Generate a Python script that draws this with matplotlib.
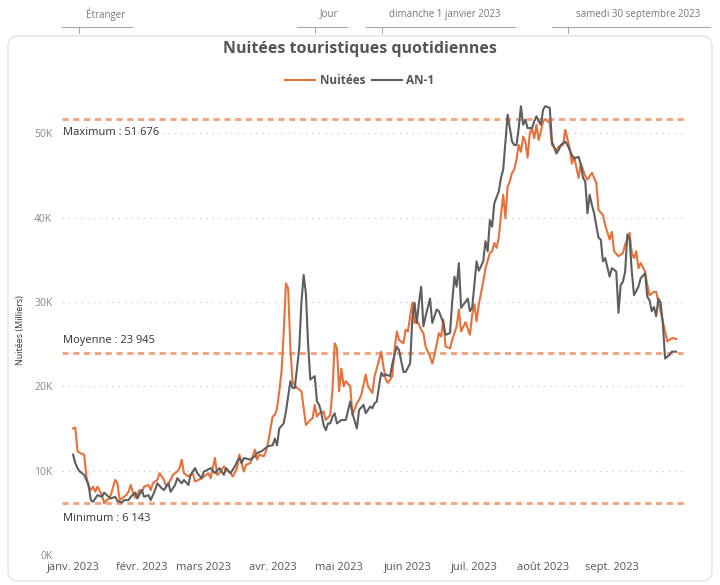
import numpy as np
import matplotlib
matplotlib.use("Agg")
import matplotlib.pyplot as plt
from matplotlib.patches import FancyBboxPatch
from matplotlib.lines import Line2D
from matplotlib.ticker import FuncFormatter

plt.rcParams['font.family'] = ['Open Sans', 'DejaVu Sans']

# days since 1 Jan 2023, values in thousands of nights
nuitees_jours = [0, 1, 2, 3, 4, 5, 6, 7, 8, 9, 10, 11, 12, 13, 14, 15, 16, 17, 19, 20, 21, 23, 24, 25, 26, 27, 28,
                 30, 31, 32, 34, 35, 36, 38, 39, 41, 42, 44, 45, 47, 48, 49, 50, 52, 54,
                 55, 58, 61, 62, 64, 65, 66, 68, 69, 71, 72, 74, 75, 77, 78, 80, 81, 82, 83, 84, 86, 87, 88, 90,
                 91, 92, 93, 94, 95, 96, 97, 98, 99, 101, 103, 105, 107, 108, 109, 110, 111, 113, 114, 116, 117, 118,
                 119, 120, 121, 122, 123, 125, 126, 128, 129, 130, 132, 133, 135, 136, 138, 139, 140, 141, 142, 144,
                 145, 146, 147, 149, 150, 151, 153, 154, 155, 157, 158, 159, 161, 162, 163, 165, 166, 167, 168, 170,
                 171, 173, 174, 175, 177,
                 179, 180, 181, 182, 183, 185, 186, 188, 189, 190, 191, 192, 193, 194, 195, 196, 197, 198, 199, 200,
                 201, 202, 203, 204, 205, 206, 207, 208, 209, 210, 211, 212, 213, 215, 216, 218, 219, 221, 222, 224,
                 225, 226, 228, 229, 231, 232,
                 234, 236, 237, 239, 240, 242, 243, 244, 246, 248, 249, 251, 252, 253, 254, 255, 256, 258, 259, 260,
                 262, 263, 264, 266, 267, 268, 270, 271, 272]
nuitees = [15.0, 15.1, 12.3, 12.1, 12.0, 11.9, 9.3, 8.1, 7.7, 8.1, 7.5, 8.1, 7.6, 7.1, 6.143, 6.5, 6.6, 7.1, 8.9, 8.5,
           6.5, 6.9, 7.1, 7.5, 8.3, 7.4, 6.8, 7.7, 7.4, 8.1, 8.3, 7.7, 8.5, 8.9, 9.7, 8.9, 8.1, 8.9, 9.5, 9.9,
           10.3, 11.3, 9.7, 9.3, 9.7,
           8.7, 9.1, 9.7, 9.1, 11.5, 9.5, 9.7, 10.5, 10.1, 9.7, 9.3, 10.3, 11.9, 9.9, 10.7, 10.9, 11.7, 12.5, 11.3, 11.9,
           11.7, 12.3, 13.4, 16.4, 16.6, 17.4, 19.4, 21.7, 26.5, 32.2, 31.6, 24.5, 20.5, 19.8, 19.4, 15.4, 16.0, 16.2, 17.8, 16.4,
           16.8, 17.0, 16.0, 16.6, 19.6, 25.1,
           24.5, 19.4, 22.1, 20.0, 20.6, 20.0, 16.6, 18.0, 18.4, 19.0, 21.4, 20.0, 19.2, 21.2, 23.1, 24.1, 22.3, 20.8, 20.4, 21.2,
           24.3, 26.5, 25.5, 25.1, 26.7, 26.5, 29.9, 27.5, 27.9, 26.7, 26.3, 24.7, 23.5, 22.7, 23.7, 26.3, 25.9, 27.9, 24.7, 24.5,
           25.5, 27.1, 29.1, 26.5, 27.6,
           26.1, 28.5, 29.7, 27.7, 29.7, 32.4, 34.0, 35.8, 36.0, 37.0, 36.4, 37.6, 40.3, 42.7, 39.9, 43.7, 44.3, 45.3, 45.7, 46.9,
           48.6, 47.8, 49.6, 49.0, 47.1, 50.0, 50.6, 49.4, 51.0, 49.2, 50.2, 51.4, 51.676, 51.2, 48.6, 48.0, 48.4, 48.6, 50.4, 48.2,
           46.4, 47.2, 44.7, 46.4, 44.9, 44.5,
           45.3, 44.1, 40.9, 40.3, 39.1, 37.4, 38.3, 36.0, 35.4, 35.8, 36.8, 38.2, 35.8, 35.2, 36.0, 34.0, 34.6, 33.6, 32.0, 30.8,
           31.2, 31.2, 30.0, 27.7, 26.5, 25.3, 25.7, 25.7, 25.6]

an1_jours = [0, 1, 2, 3, 4, 5, 6, 7, 8, 9, 10, 11, 13, 14, 16, 17, 19, 20, 22, 23, 25, 26, 28, 29, 31, 32, 34, 35, 37, 38,
             40, 41, 43, 44, 46, 47, 49, 50, 52, 53, 55, 56, 58, 59, 60,
             62, 64, 66, 68, 69, 71, 73, 74, 75, 76, 77, 80, 82, 83, 85, 86, 88, 90, 91, 92,
             93, 95, 96, 98, 99, 100, 101, 102, 103, 104, 105, 106, 107, 108, 109, 110, 111, 112, 113, 114, 115, 116, 117,
             118, 119, 121, 123, 125, 126, 128, 129, 131, 132, 134, 135, 136, 137, 138, 139, 140, 141, 143, 144,
             146, 147, 149, 150, 152, 153, 154, 155, 156, 157, 158, 159, 161, 162, 164, 165, 167, 168, 170, 171,
             172, 173, 174, 175, 177,
             178, 179, 180, 182, 183, 185, 186, 187, 188, 189, 190, 192, 193, 194, 195, 196, 197, 198, 199, 200,
             201, 202, 203, 204, 205, 206, 207, 208, 209, 210, 211, 212, 213, 215, 216, 218, 219, 220, 222, 223,
             224, 225, 226, 228, 229, 230, 231, 232, 233,
             234, 235, 237, 238, 239, 240, 242, 243, 245, 246, 247, 248, 249, 250, 251, 252, 253, 255, 256, 258,
             259, 260, 261, 262, 263, 264, 265, 266, 267, 269, 270, 272]
an1 = [11.9, 10.9, 10.3, 9.9, 9.7, 9.5, 8.9, 8.3, 6.5, 6.3, 6.7, 7.1, 6.9, 7.4, 6.9, 6.7, 6.9, 6.4, 6.2, 6.5,
       6.5, 6.9, 7.4, 6.7, 7.7, 6.9, 7.1, 6.5, 7.7, 8.5, 7.9, 7.7, 8.5, 7.5, 8.3, 9.1, 8.5, 8.9, 8.3, 9.5,
       10.3, 9.7, 9.1, 9.9, 10.0,
       10.3, 9.7, 10.3, 9.5, 10.3, 9.7, 10.5, 11.1, 11.5, 10.9, 11.5, 11.3, 11.7, 12.1, 12.3, 12.5, 12.9, 13.0, 13.8, 13.0,
       15.0, 15.6, 17.0, 20.6, 19.8, 19.8, 22.1, 24.5, 30.0, 33.2, 31.0, 25.0, 20.8, 21.0, 21.2, 18.2, 17.8, 16.8, 15.4, 14.8,
       15.6, 15.6, 16.4,
       16.8, 15.6, 16.0, 16.0, 18.2, 16.8, 15.0, 17.2, 17.8, 16.8, 17.6, 17.4, 18.0, 18.2, 20.0, 21.6, 21.2, 21.4, 21.2, 22.7,
       24.7, 24.3, 21.7, 21.7, 22.7, 27.9, 29.9, 27.5, 29.9, 31.8, 27.1, 28.3, 30.4, 27.5, 29.1, 28.9, 27.5, 26.1, 26.3, 30.0,
       33.0, 31.8, 34.6, 29.3, 30.0,
       30.4, 28.9, 29.3, 34.8, 33.7, 34.8, 37.2, 36.0, 39.7, 38.9, 41.7, 43.1, 44.7, 45.7, 49.0, 52.2, 50.6, 49.0, 48.6, 48.6,
       50.6, 53.2, 51.0, 51.6, 50.6, 50.6, 50.6, 51.4, 52.0, 51.4, 51.0, 52.8, 53.2, 53.0, 49.0, 47.6, 48.0, 48.6, 49.0, 48.6,
       48.0, 47.4, 47.0, 47.2, 46.3, 44.7, 44.3, 40.5, 42.7,
       41.5, 40.5, 37.6, 37.4, 34.8, 35.2, 33.0, 34.0, 33.6, 28.7, 32.0, 32.4, 33.6, 38.0, 37.4, 33.6, 30.8, 31.8, 32.8, 33.4,
       30.6, 30.2, 28.9, 29.4, 28.3, 30.4, 29.9, 27.5, 23.3, 23.7, 24.1, 24.1]

valeur_max = 51676
valeur_moy = 23945
valeur_min = 6143

mois = ['janv. 2023', 'févr. 2023', 'mars 2023', 'avr. 2023', 'mai 2023',
        'juin 2023', 'juil. 2023', 'août 2023', 'sept. 2023']

filtres = ['Étranger', 'Jour', 'dimanche 1 janvier 2023', 'samedi 30 septembre 2023']

ORANGE = '#E8703A'
GRIS = '#5E5E5E'
REF = '#F3A47F'

debut = np.datetime64('2023-01-01')
x_n = debut + np.array(nuitees_jours).astype('timedelta64[D]')
x_a = debut + np.array(an1_jours).astype('timedelta64[D]')

fig = plt.figure(figsize=(7.2, 5.85), dpi=100)
W, H = 720, 585

# card background, drawn behind the axes
card = FancyBboxPatch((8, H - 581), 704, 545, boxstyle="round,pad=0,rounding_size=10",
                      transform=None, facecolor='white', edgecolor='#E3E3E3', linewidth=1.0, zorder=-5)
fig.patches.append(card)

# slicer header
for txt, cx, (l0, l1), tk in zip(filtres, [106, 329, 445, 638],
                                 [(62, 132), (297, 347), (366, 515), (552, 710)],
                                 [79, 315, 382, 568]):
    fig.text(cx / W, 1 - 14 / H, txt, ha='center', va='center', fontsize=7, color='#777777')
    fig.add_artist(Line2D([l0 / W, l1 / W], [1 - 27 / H, 1 - 27 / H], transform=fig.transFigure,
                          color='#A8A8A8', lw=0.8))
    fig.add_artist(Line2D([tk / W, tk / W], [1 - 27 / H, 1 - 33 / H], transform=fig.transFigure,
                          color='#A8A8A8', lw=0.8))

ax = fig.add_axes([62 / W, 1 - 555 / H, 623 / W, (555 - 91) / H])
ax.patch.set_alpha(0)

ax.plot(x_n, np.array(nuitees) * 1000, color=ORANGE, lw=1.5, label='Nuitées', zorder=3)
ax.plot(x_a, np.array(an1) * 1000, color=GRIS, lw=1.5, label='AN-1', zorder=4)

for v in [valeur_max, valeur_moy, valeur_min]:
    ax.axhline(v, color=REF, lw=2.1, ls=(0, (2.1, 1.6)), zorder=2)

def fr(n):
    return '{:,}'.format(n).replace(',', ' ')

tr = ax.get_yaxis_transform()
ax.text(0.002, valeur_max - 1650, 'Maximum : ' + fr(valeur_max), transform=tr, ha='left', va='center',
        fontsize=8, color='#333333')
ax.text(0.002, valeur_moy + 1500, 'Moyenne : ' + fr(valeur_moy), transform=tr, ha='left', va='center',
        fontsize=8, color='#333333')
ax.text(0.002, valeur_min - 1850, 'Minimum : ' + fr(valeur_min), transform=tr, ha='left', va='center',
        fontsize=8, color='#333333')

ax.set_ylim(0, 55000)
ax.set_xlim(debut - np.timedelta64(5, 'D'), debut + np.timedelta64(276, 'D'))
ax.set_yticks(np.arange(0, 50001, 10000))
ax.yaxis.set_major_formatter(FuncFormatter(lambda v, p: '%dK' % (v / 1000)))
ax.grid(axis='y', color='#C8C8C8', lw=0.9, ls=(0, (1, 4)))
ax.set_axisbelow(True)

ticks = [np.datetime64('2023-%02d-01' % m) for m in range(1, 10)]
ax.set_xticks(ticks)
ax.set_xticklabels(mois)

for s in ax.spines.values():
    s.set_visible(False)
ax.tick_params(axis='y', length=0, pad=7, labelsize=7.5, labelcolor='#888888')
ax.tick_params(axis='x', length=0, pad=5, labelsize=8, labelcolor='#555555')

fig.text(20 / W, 1 - 330 / H, 'Nuitées (Milliers)', rotation=90, ha='center', va='center',
         fontsize=6.5, color='#333333')

fig.text(0.5, 1 - 49 / H, 'Nuitées touristiques quotidiennes', ha='center', va='center',
         fontsize=11.5, fontweight='bold', color='#555555')

handles, labels = ax.get_legend_handles_labels()
leg = fig.legend(handles, labels, loc='center', bbox_to_anchor=(0.5, 1 - 81 / H), ncol=2, frameon=False,
                 handlelength=2.5, handletextpad=0.4, columnspacing=0.6,
                 prop={'size': 8.5, 'weight': 'bold'})
for t in leg.get_texts():
    t.set_color('#555555')

fig.savefig('out.png', dpi=100)
